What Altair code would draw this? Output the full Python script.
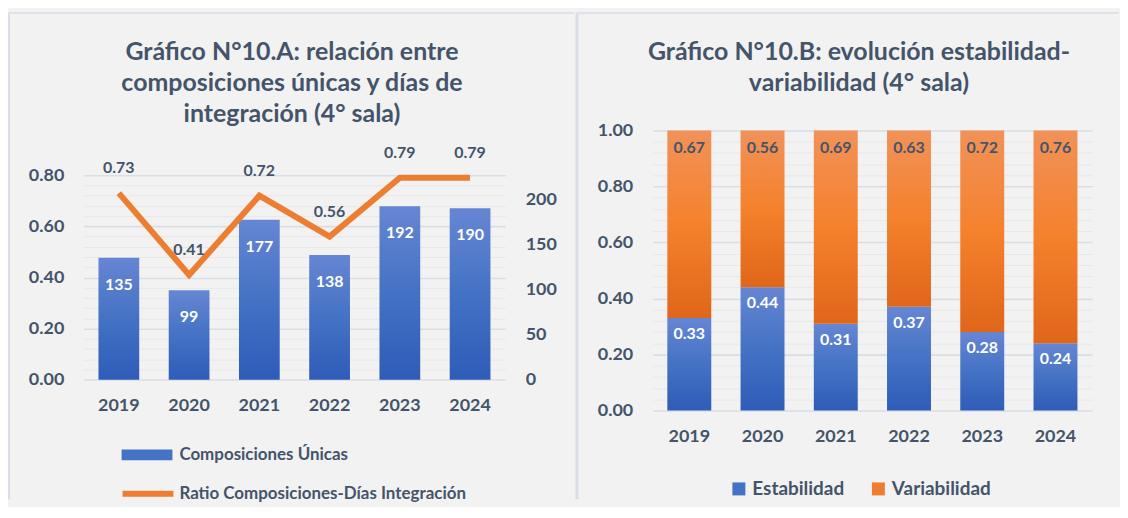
import altair as alt
import pandas as pd

# ---------------- data ----------------
years = ["2019", "2020", "2021", "2022", "2023", "2024"]
composiciones = [135, 99, 177, 138, 192, 190]
ratio = [0.73, 0.41, 0.72, 0.56, 0.79, 0.79]
estabilidad = [0.33, 0.44, 0.31, 0.37, 0.28, 0.24]
variabilidad = [0.67, 0.56, 0.69, 0.63, 0.72, 0.76]

left_title = ["Gráfico N°10.A: relación entre", "composiciones únicas y días de", "integración (4° sala)"]
right_title = ["Gráfico N°10.B: evolución estabilidad-", "variabilidad (4° sala)"]
serie_comp = "Composiciones Únicas"
serie_ratio = "Ratio Composiciones-Días Integración"
series_b = ["Estabilidad", "Variabilidad"]

ratio_ticks = [round(i * 0.04, 2) for i in range(21)]
share_ticks = [round(i * 0.04, 2) for i in range(26)]
count_ticks = [0, 50, 100, 150, 200]

# ---------------- style ----------------
FONT = "Lato"
TXT = "#44546a"
BG = "#f2f2f2"
GRID_MAJOR = "#d9dee5"
GRID_MINOR = "#e8e8e8"
BORDER = "#d8dee6"
BLUE = "#4472c4"
ORANGE = "#ed7d31"

blue_grad = alt.LinearGradient(
    gradient="linear", x1=0, y1=0, x2=0, y2=1,
    stops=[alt.GradientStop(color="#6686d3", offset=0),
           alt.GradientStop(color="#4472c4", offset=0.5),
           alt.GradientStop(color="#2e5cb8", offset=1)])
orange_grad = alt.LinearGradient(
    gradient="linear", x1=0, y1=0, x2=0, y2=1,
    stops=[alt.GradientStop(color="#f19259", offset=0),
           alt.GradientStop(color="#f5812c", offset=0.5),
           alt.GradientStop(color="#e0661a", offset=1)])

major_test = "abs(datum.value*5 - round(datum.value*5)) < 0.001"
grid_color = {"condition": {"test": major_test, "value": GRID_MAJOR}, "value": GRID_MINOR}
grid_width = {"condition": {"test": major_test, "value": 1.6}, "value": 1}
label_expr = f"({major_test}) ? format(datum.value, '.2f') : ''"

one = pd.DataFrame({"k": [0]})


def vrule(x, y, y2, w):
    return alt.Chart(one).mark_rule(color=BORDER, strokeWidth=w).encode(
        x=alt.value(x), y=alt.value(y), y2=alt.value(y2))


def hrule(x, x2, y, w):
    return alt.Chart(one).mark_rule(color=BORDER, strokeWidth=w).encode(
        x=alt.value(x), x2=alt.value(x2), y=alt.value(y))


def title_text(lines, x, y):
    return alt.Chart(one).mark_text(
        text=lines, font=FONT, fontSize=25, fontWeight="bold", color=TXT,
        align="center", baseline="middle", lineHeight=31.5).encode(
        x=alt.value(x), y=alt.value(y))


# ---------------- panel A ----------------
W_A, H = 423, 281
df_a = pd.DataFrame({"year": years, "comp": composiciones, "ratio": ratio})
base_a = alt.Chart(df_a)

x_a = alt.X("year:N", sort=years, title=None,
            scale=alt.Scale(paddingInner=0.42, paddingOuter=0.21),
            axis=alt.Axis(labelAngle=0, offset=-31, labelPadding=17))

y_comp = alt.Y("comp:Q", title=None,
               scale=alt.Scale(domain=[-34, 276], nice=False, zero=False),
               axis=alt.Axis(orient="right", values=count_ticks, grid=False,
                             labelAlign="left", labelPadding=20, labelOverlap=False))

y_ratio = alt.Y("ratio:Q", title=None,
                scale=alt.Scale(domain=[-0.12, 0.975], nice=False, zero=False),
                axis=alt.Axis(orient="left", values=ratio_ticks, grid=True,
                              gridColor=grid_color, gridWidth=grid_width,
                              labelExpr=label_expr, labelPadding=20, labelOverlap=False))

bars = base_a.mark_bar(color=blue_grad).encode(x=x_a, y=y_comp)
bar_text = base_a.mark_text(dy=27, baseline="middle", color="white", font=FONT,
                            fontWeight="bold", fontSize=16).encode(
    x=x_a, y=y_comp, text=alt.Text("comp:Q"))
bar_legend = base_a.transform_calculate(serie=f"'{serie_comp}'").mark_bar(opacity=0).encode(
    x=x_a, y=y_comp,
    fill=alt.Fill("serie:N", scale=alt.Scale(domain=[serie_comp], range=[BLUE]),
                  legend=alt.Legend(orient="none", legendX=38, legendY=300, title=None,
                                    symbolType="M-1,-0.21H1V0.21H-1Z", symbolSize=2601,
                                    symbolOpacity=1, symbolStrokeWidth=0, labelLimit=0,
                                    labelFont=FONT, labelFontSize=17, labelFontWeight="bold",
                                    labelColor=TXT, labelOffset=7, padding=0)))

line = base_a.mark_line(color=ORANGE, strokeWidth=6).encode(x=x_a, y=y_ratio)
line_text = base_a.mark_text(dy=-25, baseline="middle", color=TXT, font=FONT,
                             fontWeight="bold", fontSize=16).encode(
    x=x_a, y=y_ratio, text=alt.Text("ratio:Q", format=".2f"))
line_legend = base_a.transform_calculate(serie2=f"'{serie_ratio}'").mark_line(opacity=0).encode(
    x=x_a, y=y_ratio,
    stroke=alt.Stroke("serie2:N", scale=alt.Scale(domain=[serie_ratio], range=[ORANGE]),
                      legend=alt.Legend(orient="none", legendX=36, legendY=336, title=None,
                                        symbolType="M-1,0H1", symbolSize=2601,
                                        symbolStrokeWidth=6, symbolOpacity=1, labelLimit=0,
                                        labelFont=FONT, labelFontSize=17, labelFontWeight="bold",
                                        labelColor=TXT, labelOffset=3, padding=0)))

deco_a = alt.layer(vrule(-75, -118, 370, 2), hrule(-75, 492, -118, 1.5),
                   title_text(left_title, 209, -79))

panel_a = alt.layer(
    deco_a,
    alt.layer(bars, bar_text, bar_legend),
    alt.layer(line, line_text, line_legend),
).resolve_scale(y="independent").properties(width=W_A, height=H)

# ---------------- panel B ----------------
W_B = 441
df_b = pd.DataFrame({"year": years, "est": estabilidad, "var": variabilidad})
base_b = alt.Chart(df_b).transform_calculate(total="datum.est + datum.var")

x_b = alt.X("year:N", sort=years, title=None,
            scale=alt.Scale(paddingInner=0.40, paddingOuter=0.20),
            axis=alt.Axis(labelAngle=0, labelPadding=17))
axis_b = alt.Axis(values=share_ticks, grid=True, gridColor=grid_color,
                  gridWidth=grid_width, labelExpr=label_expr, labelPadding=20,
                  labelOverlap=False)
scale_b = alt.Scale(domain=[0, 1], nice=False)
y_b = alt.Y("est:Q", title=None, scale=scale_b, axis=axis_b)
y_tot = alt.Y("total:Q", title=None, scale=scale_b, axis=axis_b)

est_bars = base_b.mark_bar(color=blue_grad).encode(x=x_b, y=y_b)
var_bars = base_b.mark_bar(color=orange_grad).encode(x=x_b, y=y_b, y2="total:Q")
est_text = base_b.mark_text(dy=16, baseline="middle", color="white", font=FONT,
                            fontWeight="bold", fontSize=16).encode(
    x=x_b, y=y_b, text=alt.Text("est:Q", format=".2f"))
var_text = base_b.mark_text(dy=18, baseline="middle", color=TXT, font=FONT,
                            fontWeight="bold", fontSize=16).encode(
    x=x_b, y=y_tot, text=alt.Text("var:Q", format=".2f"))
legend_b = base_b.transform_calculate(serie3="'Estabilidad'").mark_bar(opacity=0).encode(
    x=x_b, y=y_b,
    color=alt.Color("serie3:N", scale=alt.Scale(domain=series_b, range=[BLUE, ORANGE]),
                    legend=alt.Legend(orient="none", legendX=77, legendY=350, title=None,
                                      direction="horizontal", symbolType="square",
                                      symbolSize=169, symbolOpacity=1, symbolStrokeWidth=0,
                                      columnPadding=24, labelOffset=4, labelLimit=0,
                                      labelFont=FONT, labelFontSize=19, labelFontWeight="bold",
                                      labelColor=TXT, padding=0)))

deco_b = alt.layer(vrule(-76, -118, 370, 3), hrule(-76, 468, -118, 1.5),
                   title_text(right_title, 207, -79))

panel_b = alt.layer(deco_b, est_bars, var_bars, est_text, var_text, legend_b).properties(
    width=W_B, height=H)

chart = alt.hconcat(panel_a, panel_b, spacing=0).resolve_scale(
    x="independent", y="independent"
).resolve_legend(
    color="independent", fill="independent", stroke="independent"
).properties(
    padding={"left": 0, "top": 2, "right": 0, "bottom": 0},
    background=BG,
).configure_view(stroke=None).configure_axis(
    labelFont=FONT, labelFontSize=18, labelFontWeight="bold", labelColor=TXT,
    domain=False, ticks=False,
)

chart.save("out.html", embed_options={"renderer": "svg", "actions": False})
